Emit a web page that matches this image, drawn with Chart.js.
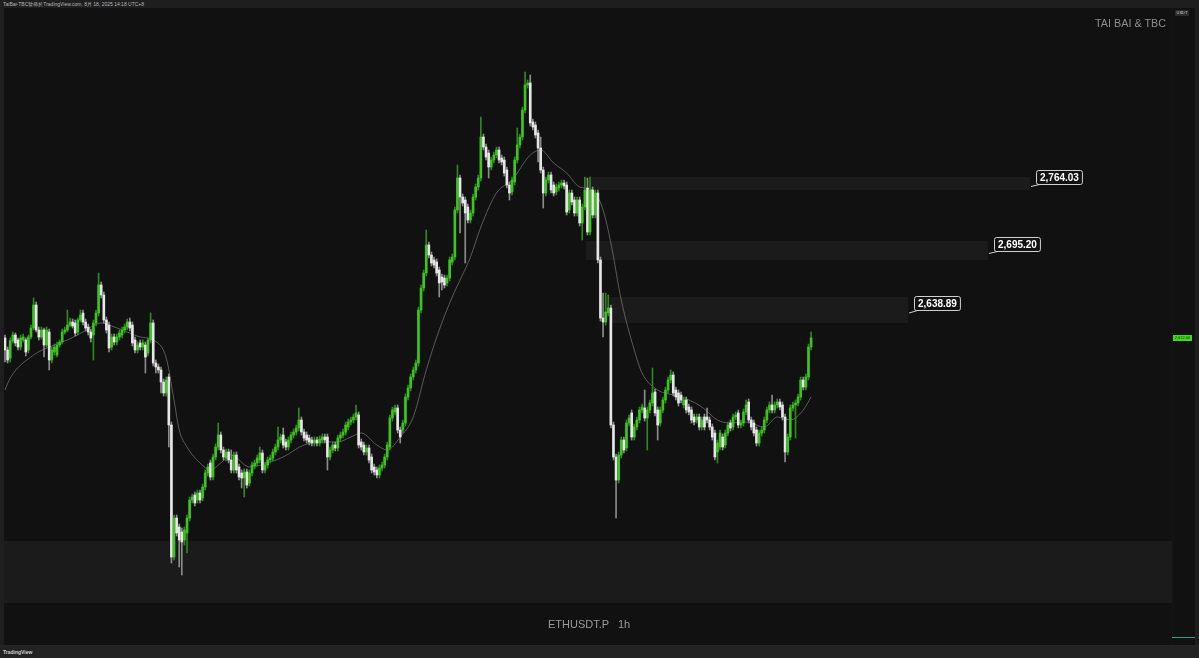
<!DOCTYPE html>
<html>
<head>
<meta charset="utf-8">
<script src="https://cdn.jsdelivr.net/npm/chart.js@4.4.1/dist/chart.umd.min.js"></script>
<style>
  html, body { margin: 0; padding: 0; }
  body { width: 1199px; height: 658px; background: #1e1e1e; overflow: hidden; position: relative; font-family: "Liberation Sans", Arial, sans-serif; }
  #header { position: absolute; left: 3px; top: 1px; font-size: 5px; color: #b5b5b5; white-space: nowrap; }
  #wrap { position: absolute; left: 4px; top: 8px; width: 1191px; height: 637px; background: #111111; }
  #footer { position: absolute; left: 0; top: 645px; width: 1199px; height: 13px; background: #232323; }
  #footer span { position: absolute; left: 3px; top: 4px; font-size: 5px; color: #d0d0d0; font-weight: bold; }
  #brand { position: absolute; left: 1091px; top: 9px; font-size: 10.8px; color: #8d8d8d; white-space: nowrap; }
  #symbol { position: absolute; left: 544px; top: 610px; font-size: 11px; color: #9a9a9a; white-space: nowrap; word-spacing: 6px; }
  #usdt { position: absolute; left: 1171px; top: 2px; width: 14px; height: 6px; background: #2b2b2b; border-radius: 1px; font-size: 4px; line-height: 6px; color: #cfcfcf; text-align: center; }
  #teal { position: absolute; left: 1168px; top: 629px; width: 23px; height: 1px; background: #2f9e8f; }
</style>
</head>
<body>
<div id="header">TaiBai-TBC發佈於TradingView.com, 8月 18, 2025 14:18 UTC+8</div>
<div id="wrap">
  <canvas id="priceChart"></canvas>
  <div id="brand">TAI BAI &amp; TBC</div>
  <div id="symbol">ETHUSDT.P 1h</div>
  <div id="usdt">USDT</div>
  <div id="teal"></div>
</div>
<div id="footer"><span>TradingView</span></div>
<script>
// ETHUSDT.P 1h candles (one value per candle)
const candleOpen = [
  2612,2600,2592,2609,2615,2610,2603,2610,2610,2600,
  2613,2622,2645,2620,2613,2620,2605,2618,2590,2598,
  2595,2605,2608,2618,2620,2625,2628,2627,2618,2630,
  2637,2628,2623,2618,2615,2627,2637,2665,2655,2630,
  2625,2603,2613,2608,2613,2615,2620,2623,2628,2625,
  2610,2600,2607,2603,2605,2597,2610,2627,2587,2583,
  2580,2568,2557,2573,2525,2393,2432,2423,2418,2410,
  2417,2432,2450,2455,2450,2457,2452,2463,2477,2487,
  2473,2493,2503,2515,2500,2492,2498,2490,2480,2495,
  2483,2477,2472,2478,2467,2477,2484,2487,2490,2497,
  2480,2485,2490,2492,2498,2503,2510,2515,2508,2503,
  2510,2515,2518,2522,2530,2518,2515,2512,2510,2507,
  2510,2507,2510,2513,2513,2493,2500,2505,2502,2512,
  2515,2518,2523,2528,2530,2533,2535,2508,2505,2498,
  2502,2493,2483,2480,2475,2482,2485,2493,2503,2532,
  2538,2542,2520,2520,2527,2553,2562,2573,2580,2587,
  2640,2662,2677,2705,2695,2690,2688,2680,2673,2672,
  2667,2672,2688,2693,2740,2772,2753,2750,2743,2730,
  2737,2753,2763,2772,2813,2803,2797,2783,2790,2795,
  2800,2792,2790,2780,2765,2758,2768,2790,2805,2813,
  2840,2865,2867,2828,2825,2817,2802,2780,2757,2770,
  2775,2765,2758,2762,2765,2767,2765,2740,2757,2750,
  2737,2750,2727,2743,2762,2718,2760,2735,2757,2690,
  2632,2628,2637,2642,2525,2493,2470,2495,2510,2502,
  2527,2537,2513,2523,2530,2540,2542,2532,2540,2547,
  2558,2540,2527,2540,2550,2560,2570,2575,2560,2557,
  2555,2545,2550,2543,2540,2533,2530,2533,2523,2533,
  2533,2530,2523,2517,2498,2503,2513,2505,2517,2527,
  2523,2533,2537,2525,2527,2538,2548,2530,2527,2520,
  2507,2517,2520,2530,2540,2545,2540,2545,2548,2545,
  2533,2498,2513,2542,2545,2547,2553,2570,2563,2573,
  2603
];
const candleHigh = [
  2615,2603,2612,2618,2617,2612,2615,2616,2612,2615,
  2625,2652,2648,2623,2623,2622,2623,2621,2603,2606,
  2608,2610,2621,2623,2640,2632,2631,2630,2632,2640,
  2640,2631,2626,2621,2630,2640,2677,2668,2658,2633,
  2628,2616,2616,2616,2620,2623,2626,2631,2632,2628,
  2613,2608,2610,2610,2608,2612,2637,2630,2590,2586,
  2583,2571,2573,2576,2528,2435,2435,2426,2422,2423,
  2435,2453,2456,2458,2460,2460,2466,2480,2486,2490,
  2496,2506,2527,2518,2503,2501,2501,2500,2498,2498,
  2486,2480,2481,2481,2480,2488,2490,2495,2503,2500,
  2488,2493,2495,2501,2506,2523,2516,2522,2511,2513,
  2518,2521,2525,2542,2533,2521,2518,2515,2513,2513,
  2513,2514,2516,2516,2516,2503,2508,2508,2515,2518,
  2521,2528,2531,2533,2536,2545,2538,2511,2508,2505,
  2505,2496,2486,2483,2485,2488,2496,2508,2535,2543,
  2545,2545,2523,2530,2556,2565,2576,2583,2590,2643,
  2665,2680,2720,2708,2698,2693,2691,2683,2676,2675,
  2675,2693,2696,2743,2785,2775,2756,2753,2746,2740,
  2756,2766,2775,2833,2816,2806,2800,2793,2798,2803,
  2803,2795,2793,2783,2768,2773,2793,2822,2816,2843,
  2878,2870,2875,2831,2828,2820,2813,2783,2773,2778,
  2778,2768,2766,2768,2770,2770,2768,2760,2760,2753,
  2753,2753,2746,2773,2772,2773,2763,2760,2760,2693,
  2657,2657,2655,2645,2528,2496,2498,2513,2513,2530,
  2535,2540,2526,2533,2543,2546,2560,2543,2550,2582,
  2561,2543,2543,2553,2563,2573,2580,2578,2563,2560,
  2558,2553,2553,2546,2543,2536,2536,2536,2533,2536,
  2542,2533,2526,2520,2510,2520,2516,2520,2528,2530,
  2536,2538,2540,2530,2541,2550,2551,2533,2530,2523,
  2520,2523,2533,2543,2548,2555,2548,2551,2551,2548,
  2536,2516,2545,2548,2550,2556,2573,2573,2576,2606,
  2618
];
const candleLow = [
  2588,2587,2588,2607,2604,2600,2600,2608,2594,2597,
  2611,2620,2618,2610,2611,2593,2603,2580,2587,2595,
  2593,2603,2606,2616,2618,2623,2622,2614,2615,2628,
  2625,2619,2615,2608,2590,2624,2634,2652,2627,2617,
  2598,2600,2605,2605,2610,2612,2617,2620,2619,2604,
  2597,2597,2600,2600,2577,2594,2607,2584,2577,2577,
  2557,2554,2554,2503,2387,2390,2414,2383,2375,2405,
  2397,2429,2447,2444,2447,2447,2449,2460,2474,2470,
  2470,2490,2500,2497,2490,2489,2487,2477,2477,2477,
  2470,2462,2453,2462,2464,2474,2481,2484,2487,2477,
  2477,2482,2487,2489,2495,2500,2507,2502,2500,2500,
  2507,2512,2515,2519,2515,2509,2507,2505,2504,2504,
  2504,2504,2507,2507,2480,2490,2497,2499,2499,2509,
  2512,2515,2520,2525,2527,2530,2502,2500,2495,2495,
  2487,2477,2475,2472,2472,2479,2482,2490,2500,2529,
  2535,2517,2507,2517,2524,2550,2559,2570,2577,2584,
  2637,2659,2674,2692,2684,2682,2674,2653,2660,2662,
  2664,2669,2685,2690,2737,2717,2744,2687,2727,2727,
  2734,2750,2760,2769,2800,2790,2772,2780,2787,2792,
  2787,2785,2774,2762,2750,2755,2765,2787,2802,2810,
  2837,2862,2824,2820,2812,2788,2777,2742,2754,2767,
  2757,2754,2755,2759,2762,2761,2735,2737,2745,2734,
  2734,2724,2710,2740,2715,2715,2732,2732,2687,2629,
  2613,2625,2634,2522,2490,2432,2467,2492,2497,2499,
  2524,2510,2510,2520,2527,2537,2529,2500,2537,2544,
  2534,2510,2524,2537,2547,2557,2567,2554,2550,2544,
  2547,2542,2537,2535,2527,2525,2527,2520,2520,2520,
  2527,2520,2510,2490,2487,2500,2500,2502,2514,2519,
  2520,2530,2522,2522,2524,2535,2527,2520,2514,2504,
  2504,2514,2517,2527,2537,2537,2537,2542,2540,2530,
  2488,2495,2510,2539,2512,2544,2550,2560,2560,2570,
  2600
];
const candleClose = [
  2600,2590,2609,2615,2607,2603,2612,2613,2598,2613,
  2622,2645,2620,2613,2620,2605,2620,2590,2600,2603,
  2605,2608,2618,2620,2625,2628,2624,2617,2630,2635,
  2628,2622,2618,2612,2627,2637,2665,2655,2630,2620,
  2602,2613,2608,2613,2617,2620,2623,2628,2622,2607,
  2600,2605,2603,2607,2593,2610,2627,2587,2583,2580,
  2568,2557,2570,2525,2393,2432,2417,2410,2408,2420,
  2432,2450,2453,2447,2457,2450,2463,2477,2483,2473,
  2493,2503,2515,2500,2493,2498,2490,2480,2495,2480,
  2473,2472,2478,2465,2477,2485,2487,2492,2497,2480,
  2485,2490,2492,2498,2503,2510,2513,2505,2503,2510,
  2515,2518,2522,2530,2518,2512,2510,2508,2507,2510,
  2507,2511,2513,2510,2493,2500,2505,2502,2512,2515,
  2518,2525,2528,2530,2533,2537,2505,2503,2498,2502,
  2490,2480,2478,2475,2482,2485,2493,2505,2532,2540,
  2542,2520,2513,2527,2553,2562,2573,2580,2587,2640,
  2662,2677,2705,2695,2687,2685,2677,2667,2668,2665,
  2672,2690,2693,2740,2772,2753,2747,2737,2730,2737,
  2753,2763,2772,2813,2803,2793,2783,2790,2795,2800,
  2790,2788,2777,2765,2757,2770,2790,2805,2813,2840,
  2865,2867,2827,2823,2815,2802,2780,2757,2770,2775,
  2760,2757,2763,2765,2767,2764,2738,2757,2748,2737,
  2750,2727,2743,2760,2718,2760,2735,2757,2690,2632,
  2628,2638,2642,2525,2493,2470,2495,2510,2500,2527,
  2532,2513,2523,2530,2540,2543,2532,2540,2547,2557,
  2537,2525,2540,2550,2560,2570,2575,2557,2553,2547,
  2550,2550,2540,2538,2530,2528,2533,2523,2530,2523,
  2530,2523,2513,2493,2507,2517,2503,2517,2525,2522,
  2533,2535,2525,2527,2538,2545,2530,2523,2517,2507,
  2517,2520,2530,2540,2545,2540,2545,2548,2543,2533,
  2498,2513,2542,2545,2547,2553,2570,2563,2573,2603,
  2612
];

// moving average line, read at a few candles
const maIndex = [0,2,11,17,24,30,37,40,47,52,57,62,65,67,70,75,79,83,87,94,
  102,107,115,122,128,133,137,143,147,152,157,162,167,172,179,183,189,195,202,206,
  211,216,221,226,230,233,237,242,245,251,257,263,268,274,279,285,292,297,302,307,310];
const maValue = [2560,2572,2595,2603,2610,2618,2627,2625,2618,2613,2610,2592,2550,2520,2503,2487,2480,2487,2495,2483,
  2488,2493,2505,2508,2508,2513,2517,2505,2500,2513,2533,2580,2620,2653,2693,2723,2757,2770,2795,2800,
  2787,2777,2763,2760,2740,2707,2650,2600,2577,2560,2555,2550,2543,2530,2527,2528,2523,2533,2530,2540,2553];

// supply / demand zones (price range, candle index range)
const zoneTop = [2773, 2709, 2653, 2409];
const zoneBottom = [2760, 2690, 2627, 2347];
const zoneStart = [225, 223.5, 232.7, -1];
const zoneEnd = [394.2, 378, 347.3, 449];
const zoneLabel = ['2,764.03', '2,695.20', '2,638.89', ''];

const UP = '#3cc51f';
const DOWN = '#e6e6e6';

const n = candleOpen.length;
const wickData = [], bodyData = [], upDown = [];
for (let i = 0; i < n; i++) {
  wickData.push({ x: i, y: [candleLow[i], candleHigh[i]] });
  bodyData.push({ x: i, y: [candleOpen[i], candleClose[i]] });
  upDown.push(candleClose[i] >= candleOpen[i]);
}
const maData = maIndex.map((x, i) => ({ x: x, y: maValue[i] }));

// zones behind the candles, labels and last price tag on top
const zonesPlugin = {
  id: 'zones',
  beforeDatasetsDraw(chart) {
    const { ctx, scales: { x, y } } = chart;
    ctx.save();
    ctx.fillStyle = 'rgba(255,255,255,0.045)';
    for (let i = 0; i < zoneTop.length; i++) {
      const x1 = x.getPixelForValue(zoneStart[i]);
      const x2 = x.getPixelForValue(zoneEnd[i]);
      const y1 = y.getPixelForValue(zoneTop[i]);
      const y2 = y.getPixelForValue(zoneBottom[i]);
      ctx.fillRect(x1, y1, x2 - x1, y2 - y1);
    }
    ctx.restore();
  },
  afterDatasetsDraw(chart) {
    const { ctx, scales: { x, y }, chartArea } = chart;
    ctx.save();
    ctx.font = 'bold 10px "Liberation Sans", Arial, sans-serif';
    ctx.textBaseline = 'middle';
    for (let i = 0; i < zoneTop.length; i++) {
      if (!zoneLabel[i]) continue;
      const tipX = x.getPixelForValue(zoneEnd[i]) + 1;
      const mid = (y.getPixelForValue(zoneTop[i]) + y.getPixelForValue(zoneBottom[i])) / 2;
      const tipY = mid + 3;
      const w = ctx.measureText(zoneLabel[i]).width + 7;
      const left = Math.round(tipX + 5) + 0.5;
      const bottom = Math.round(tipY - 3) + 0.5;
      const top = bottom - 14;
      ctx.fillStyle = '#121212';
      ctx.strokeStyle = '#d0d0d0';
      ctx.lineWidth = 1;
      ctx.beginPath();
      ctx.roundRect(left, top, w, 14, 2);
      ctx.fill();
      ctx.stroke();
      ctx.beginPath();
      ctx.moveTo(tipX, tipY);
      ctx.lineTo(left + 3, bottom);
      ctx.stroke();
      ctx.fillStyle = '#ffffff';
      ctx.fillText(zoneLabel[i], left + 3.5, top + 7.5);
    }
    // last price tag on the price axis
    const last = candleClose[n - 1];
    const py = y.getPixelForValue(last);
    ctx.fillStyle = '#3fdc1c';
    ctx.fillRect(chartArea.right + 1, py - 3, 19, 6);
    ctx.fillStyle = '#0b2a05';
    ctx.font = '4px "Liberation Sans", Arial, sans-serif';
    ctx.textAlign = 'center';
    ctx.fillText(last.toLocaleString('en-US', { minimumFractionDigits: 2 }), chartArea.right + 10.5, py + 0.3);
    // faint separator of the price axis
    ctx.fillStyle = '#141414';
    ctx.fillRect(chartArea.right, 0, 1, chart.height);
    ctx.restore();
  }
};

new Chart(document.getElementById('priceChart'), {
  type: 'bar',
  data: {
    datasets: [
      {
        type: 'line',
        data: maData,
        borderColor: 'rgba(170,170,170,0.6)',
        borderWidth: 0.8,
        pointRadius: 0,
        cubicInterpolationMode: 'monotone',
        order: 3
      },
      {
        data: wickData,
        backgroundColor: upDown.map(u => u ? '#2e8a1c' : '#8c8c8c'),
        barThickness: 1,
        minBarLength: 1,
        grouped: false,
        order: 2
      },
      {
        data: bodyData,
        backgroundColor: upDown.map(u => u ? UP : DOWN),
        barThickness: 2,
        minBarLength: 1,
        grouped: false,
        order: 1
      }
    ]
  },
  options: {
    responsive: true,
    maintainAspectRatio: false,
    animation: false,
    layout: { padding: { left: 0, right: 23, top: 0, bottom: 0 } },
    plugins: { legend: { display: false }, tooltip: { enabled: false } },
    scales: {
      x: { type: 'linear', min: -0.385, max: 448.8, offset: false, display: false },
      y: { min: 2305, max: 2942, display: false }
    }
  },
  plugins: [zonesPlugin]
});
</script>
</body>
</html>
